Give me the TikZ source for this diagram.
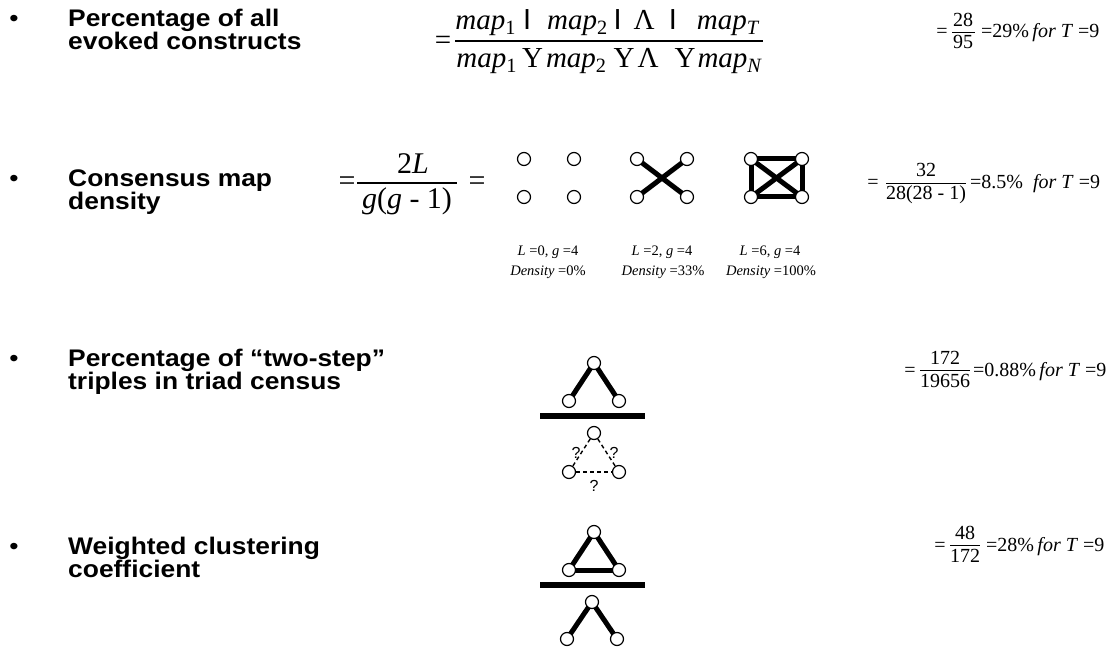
\documentclass[tikz,border=0pt]{standalone}
\usepackage{amsmath}
\usepackage{fontspec}
\setmainfont{Liberation Serif}
\newfontfamily\headfont[FakeStretch=1.1]{Liberation Sans}
\newfontfamily\plainsans{Liberation Sans}
\usetikzlibrary{backgrounds}
\tikzset{
  head/.style={font=\headfont\bfseries\fontsize{24}{27}\selectfont, anchor=base west, inner sep=0pt},
  bul/.style={font=\headfont\fontsize{24}{27}\selectfont, anchor=base, inner sep=0pt},
  bigm/.style={font=\fontsize{29}{34}\selectfont, anchor=base, inner sep=0pt},
  midm/.style={font=\fontsize{30}{36}\selectfont, anchor=base, inner sep=0pt},
  smm/.style={font=\fontsize{20}{24}\selectfont, anchor=base, inner sep=0pt},
  lbl/.style={font=\fontsize{14.5}{17}\selectfont, anchor=base, inner sep=0pt},
  qm/.style={font=\plainsans\fontsize{16}{19}\selectfont, inner sep=0pt},
  vtx/.style={circle, draw, fill=white, minimum size=13pt, inner sep=0pt, line width=1.2pt},
  edgeline/.style={line width=5pt},
  dashedge/.style={line width=1.4pt, dash pattern=on 4pt off 3pt},
  fbar/.style={line width=1.1pt},
  sbar/.style={line width=0.8pt},
  wide bar/.style={line width=6pt}
}
\newcommand{\ssub}[1]{$_{\text{#1}}$}
\newcommand{\isub}[1]{$_{\textit{#1}}$}
\newcommand{\capI}{{\plainsans I}}
\newcommand{\hs}[1]{\hspace{#1pt}}
\begin{document}
\begin{tikzpicture}[x=1pt,y=-1pt]
\useasboundingbox (0,0) rectangle (1117,647);

% ---------- Row 1 ----------
\node[bul] (b1) at (14,27) {•};
\node[head] (h1a) at (68,27) {Percentage of all};
\node[head] (h1b) at (68,50) {evoked constructs};
\node[bigm] (eq1) at (443,50) {=};
\coordinate (f1l) at (455,41);
\coordinate (f1r) at (763,41);
\draw[fbar] (f1l) -- (f1r);
\node[bigm] (n1) at (607,30) {\textit{map}\ssub{1}\hs{7}\capI\hs{16}\textit{map}\ssub{2}\hs{6}\capI\hs{12}Λ\hs{14}\capI\hs{20}\textit{map}\isub{T}};
\node[bigm] (d1) at (609,68) {\textit{map}\ssub{1}\hs{5}Υ\hs{3}\textit{map}\ssub{2}\hs{7}Υ\hs{3}Λ\hs{16}Υ\hs{2}\textit{map}\isub{N}};
\node[smm] (r1e) at (942,38) {=};
\coordinate (r1l) at (952,32);
\coordinate (r1r) at (975,32);
\draw[sbar] (r1l) -- (r1r);
\node[smm] (r1n) at (963,27) {28};
\node[smm] (r1d) at (963,49) {95};
\node[smm,anchor=base west] (r1m) at (981,38) {=29\%\,\textit{for T} =9};

% ---------- Row 2 ----------
\node[bul] (b2) at (14,187) {•};
\node[head] (h2a) at (68,187) {Consensus map};
\node[head] (h2b) at (68,210) {density};
\node[midm] (eq2) at (347,191) {=};
\coordinate (f2l) at (357,183);
\coordinate (f2r) at (457,183);
\draw[fbar] (f2l) -- (f2r);
\node[midm] (n2) at (413,174) {2\textit{L}};
\node[midm] (d2) at (407,209) {\textit{g}(\textit{g} - 1)};
\node[midm] (eq3) at (477,191) {=};

% graph A
\node[vtx] (a1) at (524,159) {};
\node[vtx] (a2) at (574,159) {};
\node[vtx] (a3) at (524,197) {};
\node[vtx] (a4) at (574,197) {};
% graph B
\node[vtx] (p1) at (637,159) {};
\node[vtx] (p2) at (687,159) {};
\node[vtx] (p3) at (637,197) {};
\node[vtx] (p4) at (687,197) {};
% graph C
\node[vtx] (k1) at (751,159) {};
\node[vtx] (k2) at (802,159) {};
\node[vtx] (k3) at (751,197) {};
\node[vtx] (k4) at (802,197) {};
\begin{scope}[on background layer]
  \draw[edgeline] (p1.center) -- (p4.center);
  \draw[edgeline] (p2.center) -- (p3.center);
  \draw[edgeline] (k1.center) -- (k2.center);
  \draw[edgeline] (k3.center) -- (k4.center);
  \draw[edgeline] (k1.center) -- (k3.center);
  \draw[edgeline] (k2.center) -- (k4.center);
  \draw[edgeline] (k1.center) -- (k4.center);
  \draw[edgeline] (k2.center) -- (k3.center);
\end{scope}
\node[lbl] (la1) at (548,256) {\textit{L} =0, \textit{g} =4};
\node[lbl] (la2) at (548,276) {\textit{Density} =0\%};
\node[lbl] (lb1) at (662,256) {\textit{L} =2, \textit{g} =4};
\node[lbl] (lb2) at (663,276) {\textit{Density} =33\%};
\node[lbl] (lc1) at (770,256) {\textit{L} =6, \textit{g} =4};
\node[lbl] (lc2) at (771,276) {\textit{Density} =100\%};

\node[smm] (r2e) at (873,189) {=};
\coordinate (r2l) at (886,183);
\coordinate (r2r) at (966,183);
\draw[sbar] (r2l) -- (r2r);
\node[smm] (r2n) at (926,177) {32};
\node[smm] (r2d) at (926,200) {28(28 - 1)};
\node[smm,anchor=base west] (r2m) at (970,189) {=8.5\%\ \ \textit{for T} =9};

% ---------- Row 3 ----------
\node[bul] (b3) at (14,366) {•};
\node[head] (h3a) at (68,366) {Percentage of “two-step”};
\node[head] (h3b) at (68,389) {triples in triad census};
\node[vtx] (t1) at (594,363) {};
\node[vtx] (t2) at (569,401) {};
\node[vtx] (t3) at (619,401) {};
\begin{scope}[on background layer]
  \draw[edgeline] (t1.center) -- (t2.center);
  \draw[edgeline] (t1.center) -- (t3.center);
\end{scope}
\coordinate (w3l) at (540,416);
\coordinate (w3r) at (645,416);
\draw[wide bar] (w3l) -- (w3r);
\node[vtx] (u1) at (594,433) {};
\node[vtx] (u2) at (569,472) {};
\node[vtx] (u3) at (619,472) {};
\draw[dashedge] (u1) -- (u2);
\draw[dashedge] (u1) -- (u3);
\draw[dashedge] (u2) -- (u3);
\node[qm] (q1) at (576,453) {?};
\node[qm] (q2) at (614,453) {?};
\node[qm] (q3) at (594,486) {?};

\node[smm] (r3e) at (910,376) {=};
\coordinate (r3l) at (920,370);
\coordinate (r3r) at (970,370);
\draw[sbar] (r3l) -- (r3r);
\node[smm] (r3n) at (945,364) {172};
\node[smm] (r3d) at (945,387) {19656};
\node[smm,anchor=base west] (r3m) at (973,376) {=0.88\%\,\textit{for T} =9};

% ---------- Row 4 ----------
\node[bul] (b4) at (14,554) {•};
\node[head] (h4a) at (68,554) {Weighted clustering};
\node[head] (h4b) at (68,577) {coefficient};
\node[vtx] (s1) at (594,532) {};
\node[vtx] (s2) at (569,570) {};
\node[vtx] (s3) at (619,570) {};
\begin{scope}[on background layer]
  \draw[edgeline] (s1.center) -- (s2.center);
  \draw[edgeline] (s1.center) -- (s3.center);
  \draw[edgeline] (s2.center) -- (s3.center);
\end{scope}
\coordinate (w4l) at (540,585);
\coordinate (w4r) at (645,585);
\draw[wide bar] (w4l) -- (w4r);
\node[vtx] (c1) at (592,602) {};
\node[vtx] (c2) at (567,639) {};
\node[vtx] (c3) at (617,639) {};
\begin{scope}[on background layer]
  \draw[edgeline] (c1.center) -- (c2.center);
  \draw[edgeline] (c1.center) -- (c3.center);
\end{scope}

\node[smm] (r4e) at (940,551) {=};
\coordinate (r4l) at (950,545);
\coordinate (r4r) at (980,545);
\draw[sbar] (r4l) -- (r4r);
\node[smm] (r4n) at (965,539) {48};
\node[smm] (r4d) at (965,562) {172};
\node[smm,anchor=base west] (r4m) at (986,551) {=28\%\,\textit{for T} =9};
\end{tikzpicture}
\end{document}
